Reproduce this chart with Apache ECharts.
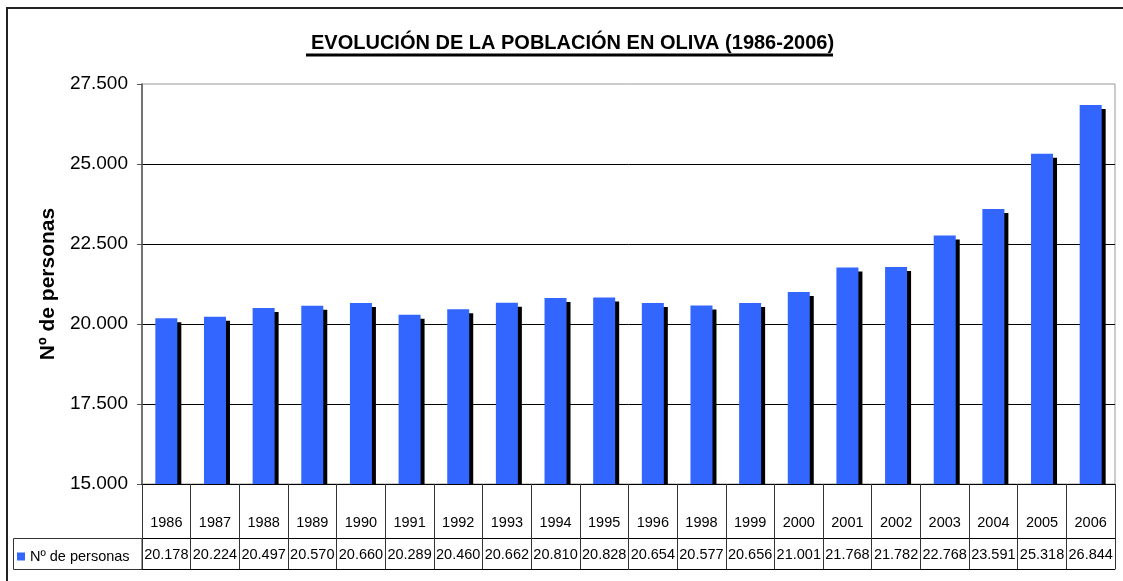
<!DOCTYPE html>
<html>
<head>
<meta charset="utf-8">
<script src="https://cdn.jsdelivr.net/npm/echarts@6/dist/echarts.min.js"></script>
<style>html,body{margin:0;padding:0;background:#fff}#c{width:1123px;height:581px}</style>
</head>
<body>
<div id="c"></div>
<script>
const years = ['1986','1987','1988','1989','1990','1991','1992','1993','1994','1995','1996','1998','1999','2000','2001','2002','2003','2004','2005','2006'];
const personas = [20178,20224,20497,20570,20660,20289,20460,20662,20810,20828,20654,20577,20656,21001,21768,21782,22768,23591,25318,26844];
const yMin = 15000, yMax = 27500, yStep = 2500;
const seriesName = 'Nº de personas';
const titleText = 'EVOLUCIÓN DE LA POBLACIÓN EN OLIVA (1986-2006)';

const FONT = "'Liberation Sans', Arial, sans-serif";
function fmt(v){ return String(v).replace(/\B(?=(\d{3})+(?!\d))/g, '.'); }

const chart = echarts.init(document.getElementById('c'), null, {renderer:'canvas'});
chart.setOption({
  animation:false,
  textStyle:{fontFamily:FONT},
  title:{
    text:titleText, left:306, top:28,
    textStyle:{fontFamily:FONT, fontSize:20, fontWeight:'bold', color:'#000'}
  },
  legend:{
    data:[seriesName], left:12, top:544, icon:'rect', itemWidth:8, itemHeight:8,
    textStyle:{fontFamily:FONT, fontSize:14.5, color:'#000'}
  },
  grid:{left:142, right:8, top:84, bottom:97, show:true, borderColor:'#999', borderWidth:1, containLabel:false},
  xAxis:[
    {type:'category', data:years, position:'bottom', z:5,
     axisLine:{lineStyle:{color:'#000', width:1}},
     axisTick:{show:true, interval:0, length:54, lineStyle:{color:'#333'}},
     axisLabel:{interval:0, margin:31, fontSize:14.5, color:'#000', fontFamily:FONT}},
    {type:'category', data:years, position:'bottom', offset:54, z:5,
     axisLine:{lineStyle:{color:'#000', width:1}},
     axisTick:{show:true, interval:0, length:31, lineStyle:{color:'#333'}},
     axisLabel:{interval:0, margin:9, fontSize:14.5, color:'#000', fontFamily:FONT,
       formatter:function(v, i){ return fmt(personas[i]); }}},
    {type:'category', data:years, position:'bottom', offset:85, z:5,
     axisLine:{lineStyle:{color:'#000', width:1}},
     axisTick:{show:false}, axisLabel:{show:false}}
  ],
  yAxis:{
    type:'value', min:yMin, max:yMax, interval:yStep,
    name:seriesName, nameLocation:'middle', nameGap:83,
    nameTextStyle:{fontFamily:FONT, fontSize:21, fontWeight:'bold', color:'#000'},
    axisLine:{show:true, lineStyle:{color:'#555', width:1.5}},
    axisTick:{show:true, length:5, lineStyle:{color:'#555'}},
    axisLabel:{fontSize:19, margin:14, color:'#000', fontFamily:FONT, formatter:fmt},
    splitLine:{show:true, showMaxLine:false, showMinLine:false, lineStyle:{color:'#000', width:1}}
  },
  series:[{
    name:seriesName, type:'bar', data:personas, barWidth:22, xAxisIndex:0,
    itemStyle:{color:'#3366FF', shadowColor:'#000', shadowOffsetX:4, shadowOffsetY:4, shadowBlur:0}
  }],
  graphic:{elements:[
    {type:'rect', z:3, silent:true, shape:{x:142.5, y:484.6, width:975, height:5}, style:{fill:'#fff'}},
    {type:'rect', z:6, silent:true, shape:{x:13.5, y:538.5, width:128.5, height:31}, style:{fill:'none', stroke:'#333', lineWidth:1}},
    {type:'rect', z:6, silent:true, shape:{x:7, y:8, width:1300, height:1300}, style:{fill:'none', stroke:'#222', lineWidth:2}},
    {type:'line', z:6, silent:true, shape:{x1:306, y1:55, x2:833, y2:55}, style:{stroke:'#000', lineWidth:3}}
  ]}
});
</script>
</body>
</html>
